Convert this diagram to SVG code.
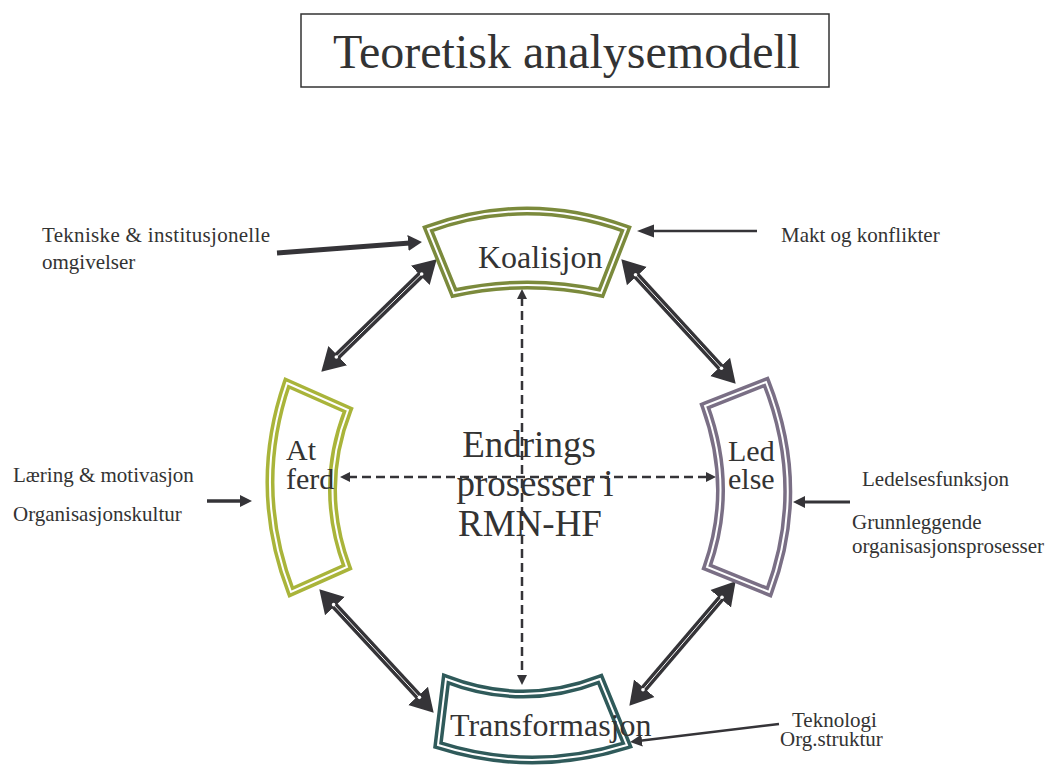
<svg xmlns="http://www.w3.org/2000/svg" width="1050" height="767" viewBox="0 0 1050 767">
<style>
text{font-family:"Liberation Serif","Times New Roman",serif;fill:#333333}
.lbl{font-size:21px}
.big{font-size:32px}
.mid{font-size:30px}
.ctr{font-size:37px;text-anchor:middle}
.frame{fill:#ffffff;stroke-width:9;stroke-linejoin:miter}
.gap{fill:none;stroke:#ffffff;stroke-width:2;stroke-linejoin:miter}
.dbl{stroke:#353438;stroke-width:7.5;fill:none;marker-start:url(#mA);marker-end:url(#mA)}
.wl{stroke:#ffffff;stroke-width:1;fill:none}
.dot{fill:#ffffff}
.dash{stroke:#353438;stroke-width:2.5;fill:none;stroke-dasharray:9 5;marker-start:url(#mD);marker-end:url(#mD)}
</style>
<defs>
<marker id="mA" markerUnits="userSpaceOnUse" markerWidth="26" markerHeight="30" viewBox="0 -15 26 30" refX="7" refY="0" orient="auto-start-reverse"><path d="M0,-13.5 L23,0 L0,13.5 Z" fill="#353438"/></marker>
<marker id="mT" markerUnits="userSpaceOnUse" markerWidth="16" markerHeight="18" viewBox="0 -9 16 18" refX="2" refY="0" orient="auto"><path d="M0,-8 L14,0 L0,8 Z" fill="#353438"/></marker>
<marker id="mM" markerUnits="userSpaceOnUse" markerWidth="18" markerHeight="14" viewBox="0 -7 18 14" refX="2" refY="0" orient="auto"><path d="M0,-6.5 L17,0 L0,6.5 Z" fill="#353438"/></marker>
<marker id="mL" markerUnits="userSpaceOnUse" markerWidth="14" markerHeight="14" viewBox="0 -7 14 14" refX="2" refY="0" orient="auto"><path d="M0,-6 L12,0 L0,6 Z" fill="#353438"/></marker>
<marker id="mD" markerUnits="userSpaceOnUse" markerWidth="12" markerHeight="12" viewBox="0 -6 12 12" refX="2" refY="0" orient="auto-start-reverse"><path d="M0,-5 L10,0 L0,5 Z" fill="#353438"/></marker>
</defs>
<rect width="1050" height="767" fill="#ffffff"/>

<g id="title">
<rect x="301" y="14" width="528" height="73" fill="none" stroke="#333333" stroke-width="1.5"/>
<text x="333" y="68" style="font-size:48px">Teoretisk analysemodell</text>
</g>

<g id="center">
<text class="ctr" x="529" y="457">Endrings</text>
<text class="ctr" x="535" y="496">prosesser i</text>
<text class="ctr" x="530" y="536">RMN-HF</text>
</g>

<g id="connectors">
<line class="dash" x1="522" y1="297" x2="522" y2="677"/>
<line class="dash" x1="348" y1="477" x2="708" y2="477"/>

<line class="dbl" x1="425.25" y1="270.47" x2="332.75" y2="360.53"/>
<line class="wl" x1="421.67" y1="273.95" x2="336.33" y2="357.05"/>
<circle class="dot" cx="421.67" cy="273.95" r="1.8"/><circle class="dot" cx="336.33" cy="357.05" r="1.8"/>

<line class="dbl" x1="632.15" y1="271.05" x2="724.85" y2="371.95"/>
<line class="wl" x1="635.53" y1="274.73" x2="721.47" y2="368.27"/>
<circle class="dot" cx="635.53" cy="274.73" r="1.8"/><circle class="dot" cx="721.47" cy="368.27" r="1.8"/>

<line class="dbl" x1="330.19" y1="601" x2="422.81" y2="701"/>
<line class="wl" x1="333.59" y1="604.67" x2="419.41" y2="697.33"/>
<circle class="dot" cx="333.59" cy="604.67" r="1.8"/><circle class="dot" cx="419.41" cy="697.33" r="1.8"/>

<line class="dbl" x1="725.26" y1="593.41" x2="639.74" y2="693.59"/>
<line class="wl" x1="722.01" y1="597.21" x2="642.99" y2="689.79"/>
<circle class="dot" cx="722.01" cy="597.21" r="1.8"/><circle class="dot" cx="642.99" cy="689.79" r="1.8"/>

<line x1="277" y1="253" x2="410" y2="242.9" stroke="#353438" stroke-width="5" marker-end="url(#mT)"/>
<line x1="757" y1="231" x2="652" y2="231" stroke="#353438" stroke-width="2.5" marker-end="url(#mM)"/>
<line x1="207" y1="501" x2="242" y2="501" stroke="#353438" stroke-width="3.5" marker-end="url(#mL)"/>
<line x1="850" y1="502" x2="803" y2="502" stroke="#353438" stroke-width="3" marker-end="url(#mL)"/>
<line x1="779" y1="724" x2="640" y2="740.8" stroke="#353438" stroke-width="2.5" marker-end="url(#mL)"/>
</g>

<g id="koalisjon">
<path class="frame" stroke="#7b8a3c" d="M428,229 Q527,193 626,229 L601,293 Q527,277 454,293 Z"/>
<path class="gap" d="M428,229 Q527,193 626,229 L601,293 Q527,277 454,293 Z"/>
<text class="big" x="478" y="268">Koalisjon</text>
</g>

<g id="atferd">
<path class="frame" stroke="#a9b43a" d="M287,383 L348,410 Q317.5,488 347,567 L291,592 Q251,488 287,383 Z"/>
<path class="gap" d="M287,383 L348,410 Q317.5,488 347,567 L291,592 Q251,488 287,383 Z"/>
<text class="mid" x="286" y="460">At</text>
<text class="mid" x="286" y="489">ferd</text>
</g>

<g id="ledelse">
<path class="frame" stroke="#7a6f85" d="M705,406 L766,382 Q808,488 769,592 L707,567 Q735,488 705,406 Z"/>
<path class="gap" d="M705,406 L766,382 Q808,488 769,592 L707,567 Q735,488 705,406 Z"/>
<text class="mid" x="728" y="461">Led</text>
<text class="mid" x="728" y="489">else</text>
</g>

<g id="transformasjon">
<path class="frame" stroke="#2f5a5a" d="M446,679 Q523,709 600,679 L627,745 Q532,775 438,745 Z"/>
<path class="gap" d="M446,679 Q523,709 600,679 L627,745 Q532,775 438,745 Z"/>
<text class="big" x="450" y="736">Transformasjon</text>
</g>

<g id="labels">
<text class="lbl" x="42" y="242" textLength="228" lengthAdjust="spacing">Tekniske &amp;  institusjonelle</text>
<text class="lbl" x="42" y="269">omgivelser</text>
<text class="lbl" x="781" y="242">Makt og konflikter</text>
<text class="lbl" x="13" y="482">Læring &amp; motivasjon</text>
<text class="lbl" x="13" y="521">Organisasjonskultur</text>
<text class="lbl" x="862" y="486">Ledelsesfunksjon</text>
<text class="lbl" x="852" y="529">Grunnleggende</text>
<text class="lbl" x="852" y="553">organisasjonsprosesser</text>
<text class="lbl" x="792" y="727">Teknologi</text>
<text class="lbl" x="780" y="746">Org.struktur</text>
</g>
</svg>
